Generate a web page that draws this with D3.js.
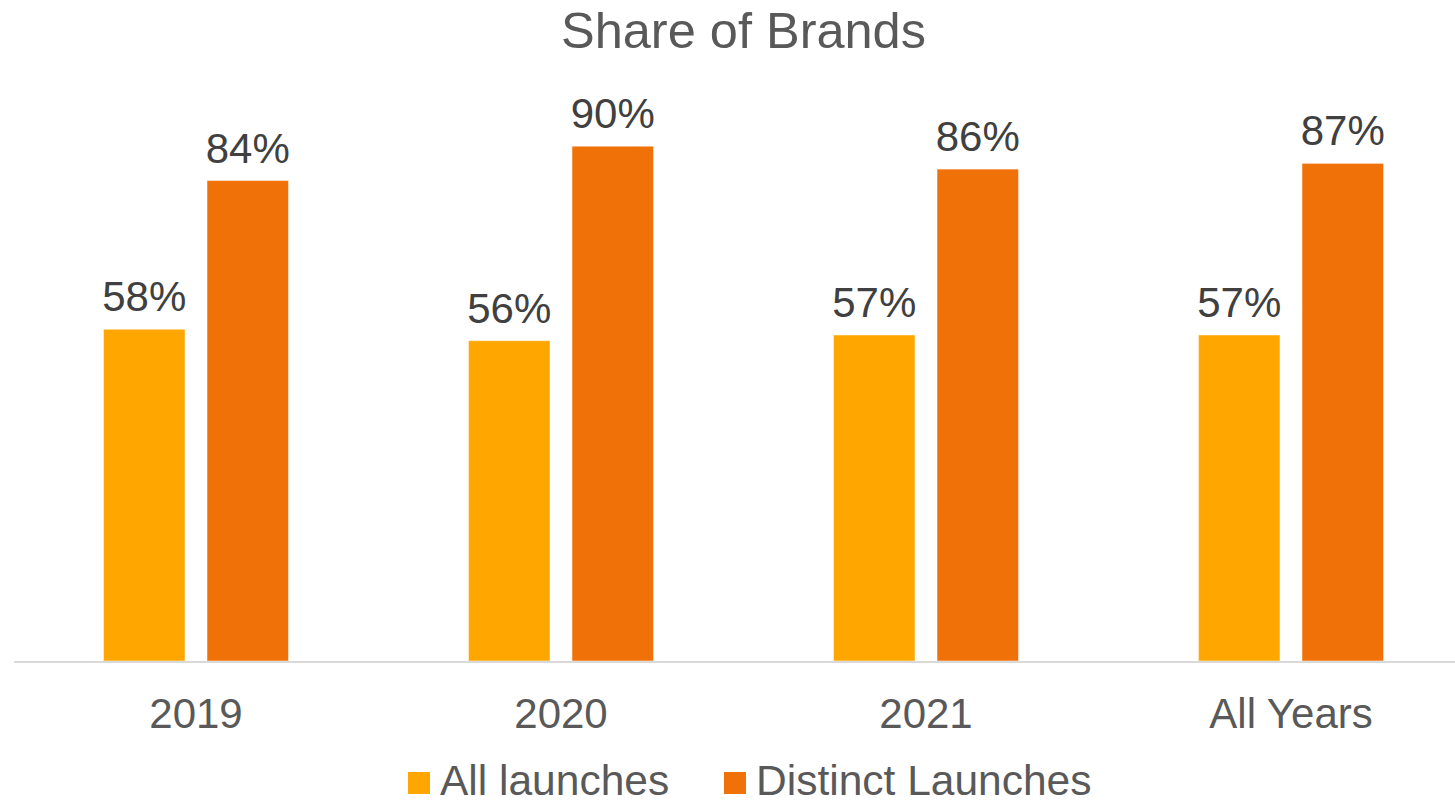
<!DOCTYPE html>
<html>
<head>
<meta charset="utf-8">
<script src="https://cdn.jsdelivr.net/npm/d3@7/dist/d3.min.js"></script>
<style>
  html, body { margin: 0; padding: 0; background: #ffffff; }
  svg { display: block; font-family: "Liberation Sans", Arial, sans-serif; }
</style>
</head>
<body>
<svg id="chart" width="1455" height="803"></svg>
<script>
// Chart data
const categories = ["2019", "2020", "2021", "All Years"];
const seriesNames = ["All launches", "Distinct Launches"];
const allLaunches = [0.58, 0.56, 0.57, 0.57];
const distinctLaunches = [0.84, 0.90, 0.86, 0.87];
const seriesColors = ["#FFA600", "#F07108"];

const seriesValues = [allLaunches, distinctLaunches];
const rows = categories.map((c, i) => ({
  category: c,
  values: seriesNames.map((s, j) => ({ series: s, value: seriesValues[j][i] }))
}));

const svg = d3.select("#chart");

const plot = { left: 13.5, right: 1473.5, top: 89, bottom: 661 };

const x0 = d3.scaleBand()
  .domain(categories)
  .range([plot.left, plot.right])
  .paddingInner(0.493)
  .paddingOuter(0.2465);

const x1 = d3.scaleBand()
  .domain(seriesNames)
  .range([0, x0.bandwidth()])
  .paddingInner(0.2126);

const y = d3.scaleLinear().domain([0, 1]).range([plot.bottom, plot.top]);

const color = d3.scaleOrdinal().domain(seriesNames).range(seriesColors);

// Title
svg.append("text")
  .attr("x", (plot.left + plot.right) / 2)
  .attr("y", 48)
  .attr("text-anchor", "middle")
  .attr("fill", "#595959")
  .attr("font-size", 50.5)
  .text("Share of Brands");

// Bars
const groups = svg.append("g").selectAll("g")
  .data(rows)
  .join("g")
  .attr("transform", d => `translate(${x0(d.category)},0)`);

groups.selectAll("rect")
  .data(d => d.values)
  .join("rect")
  .attr("x", d => x1(d.series))
  .attr("y", d => y(d.value))
  .attr("width", x1.bandwidth())
  .attr("height", d => y(0) - y(d.value))
  .attr("fill", d => color(d.series))
  .attr("stroke", "#ffffff")
  .attr("stroke-opacity", 0.5)
  .attr("stroke-width", 1);

// Value labels
groups.selectAll("text.value")
  .data(d => d.values)
  .join("text")
  .attr("class", "value")
  .attr("x", d => x1(d.series) + x1.bandwidth() / 2)
  .attr("y", d => y(d.value) - 18)
  .attr("text-anchor", "middle")
  .attr("fill", "#404040")
  .attr("font-size", 42)
  .text(d => d3.format(".0%")(d.value));

// Category axis
const xAxis = svg.append("g")
  .attr("transform", `translate(0,${plot.bottom + 0.5})`)
  .call(d3.axisBottom(x0).tickSize(0).tickPadding(0));

xAxis.select(".domain")
  .attr("stroke", "#d9d9d9")
  .attr("stroke-width", 2);

xAxis.selectAll(".tick text")
  .attr("y", 66)
  .attr("dy", 0)
  .attr("fill", "#595959")
  .attr("font-size", 42)
  .attr("font-family", "Liberation Sans, Arial, sans-serif");

// Legend
const legendItems = [
  { name: seriesNames[0], x: 408 },
  { name: seriesNames[1], x: 724 }
];
const legend = svg.append("g").selectAll("g")
  .data(legendItems)
  .join("g")
  .attr("transform", d => `translate(${d.x},0)`);

legend.append("rect")
  .attr("x", 0)
  .attr("y", 772)
  .attr("width", 22)
  .attr("height", 22)
  .attr("fill", d => color(d.name));

legend.append("text")
  .attr("x", 32)
  .attr("y", 795)
  .attr("fill", "#595959")
  .attr("font-size", 42.5)
  .text(d => d.name);
</script>
</body>
</html>
